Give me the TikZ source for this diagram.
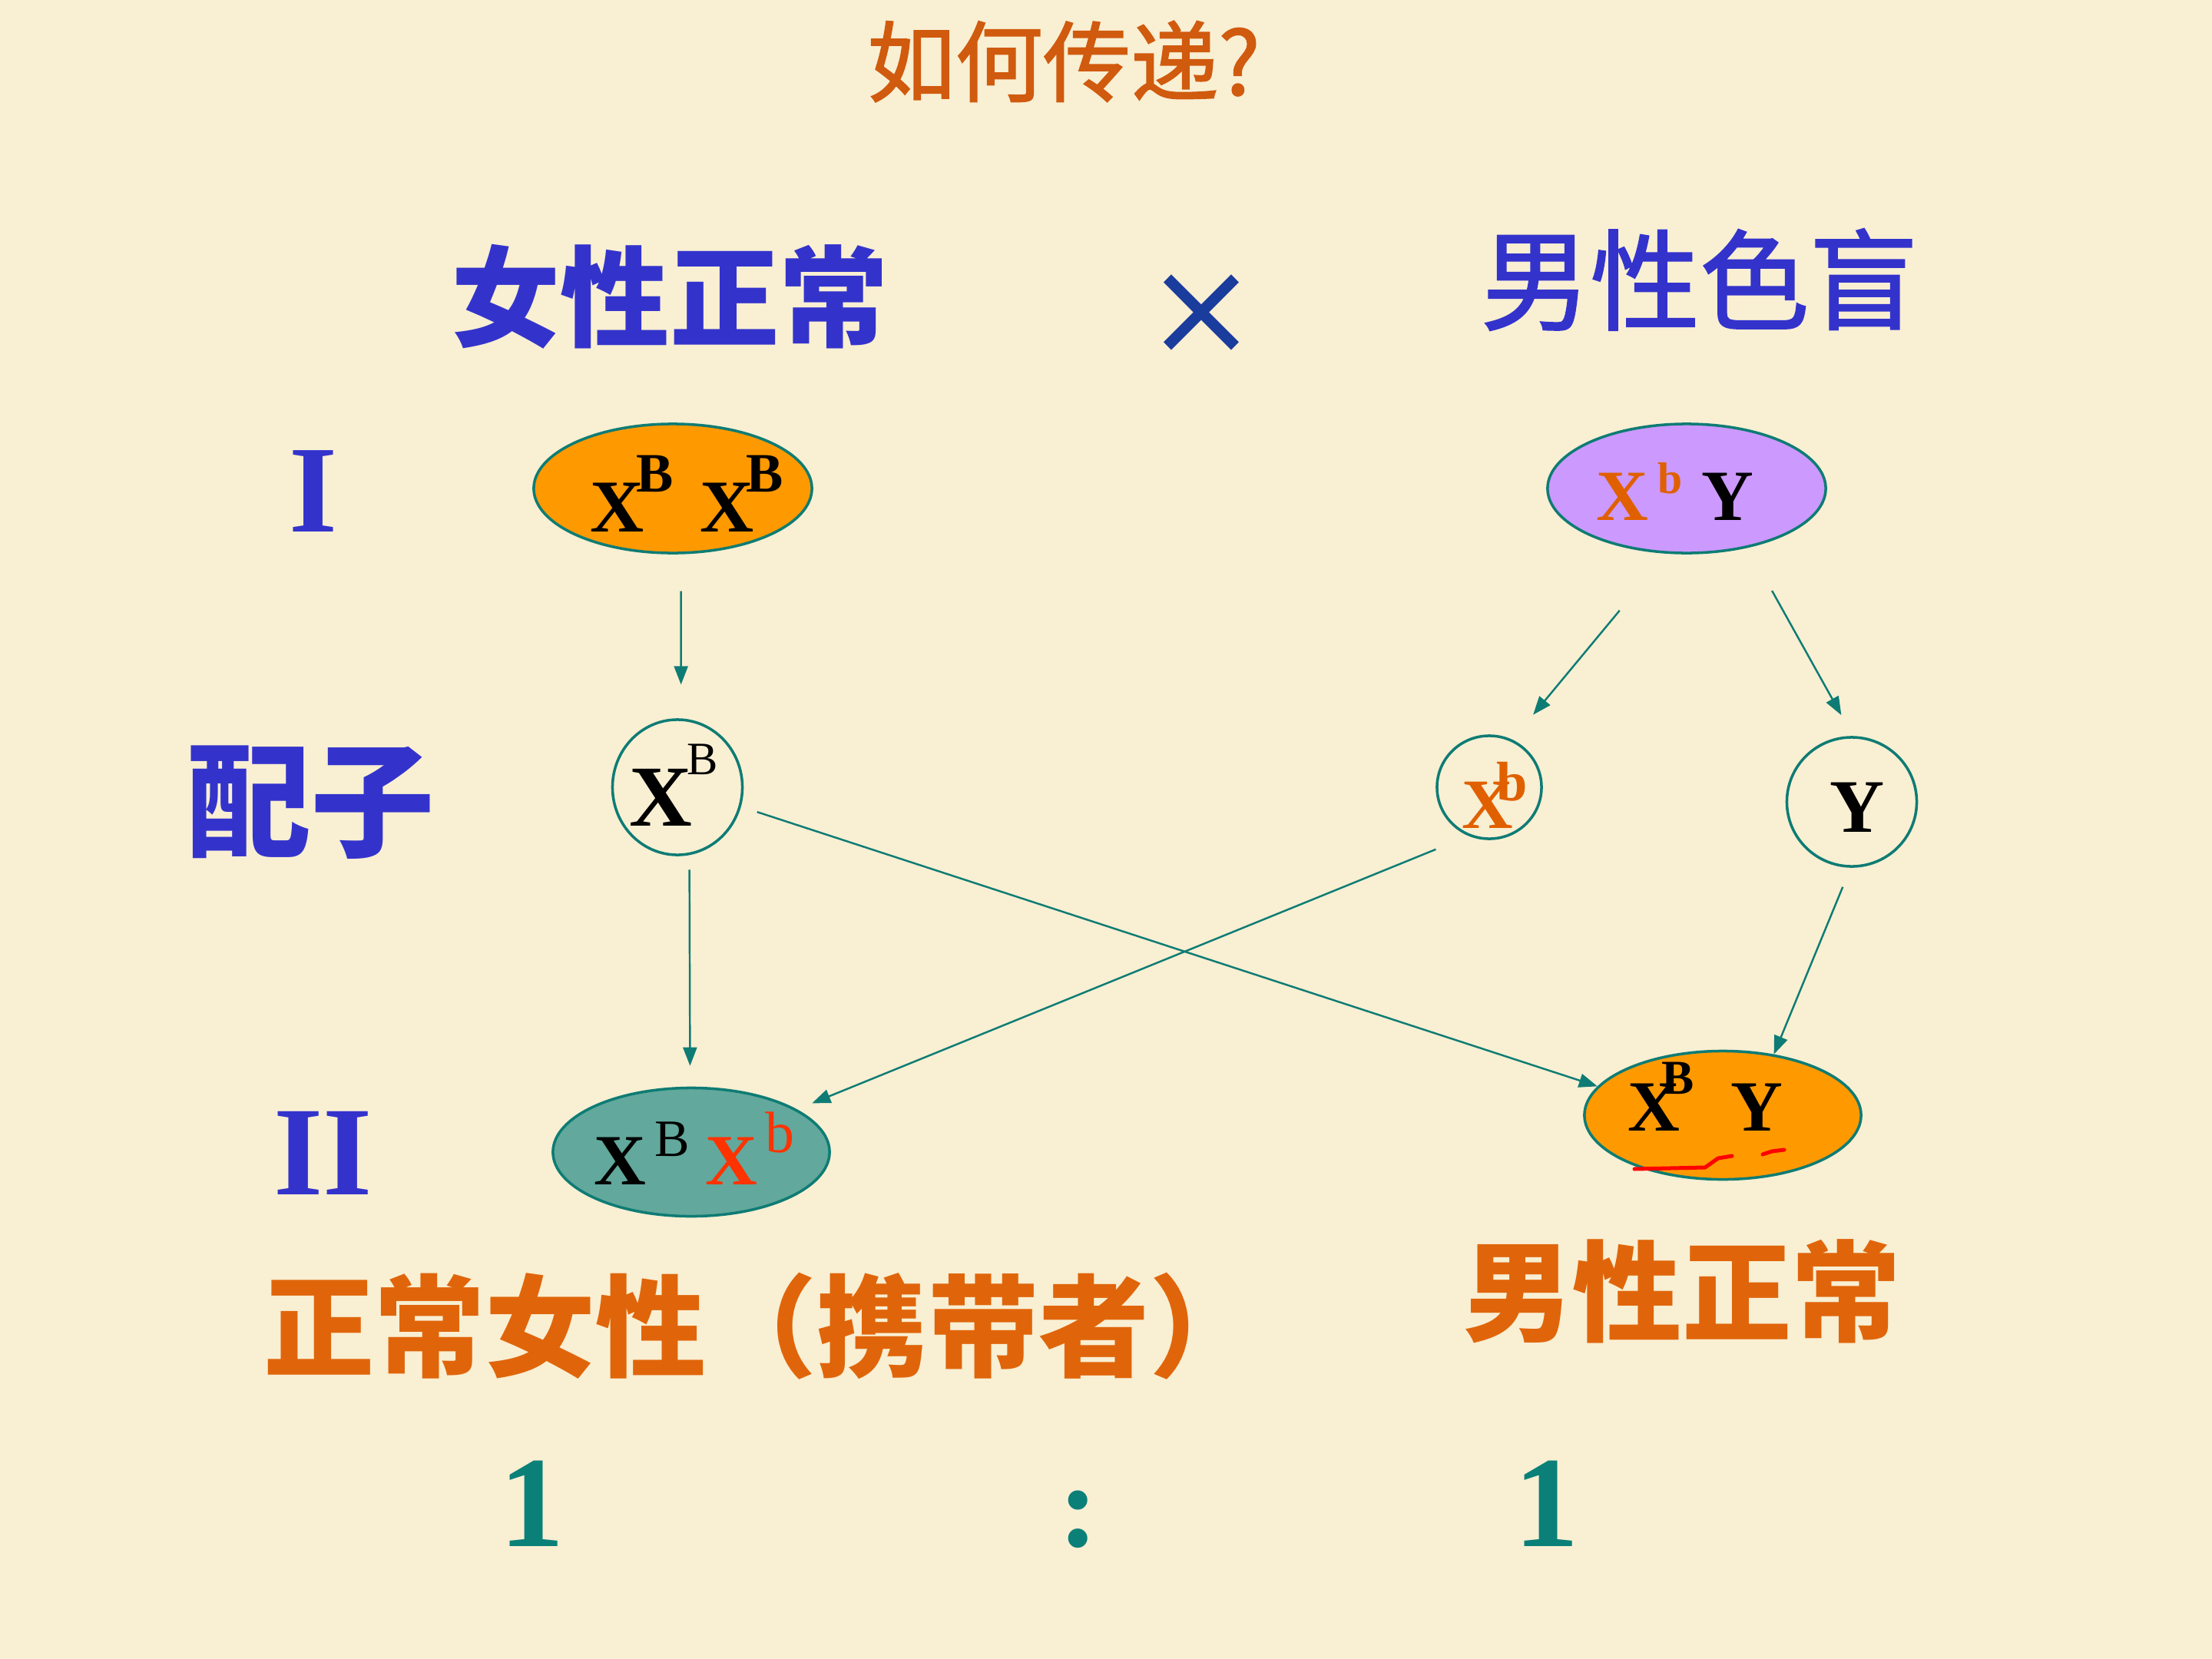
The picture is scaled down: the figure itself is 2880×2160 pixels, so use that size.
\documentclass[tikz,border=0pt]{standalone}
\usepackage{fontspec}
\setmainfont{Liberation Serif}
\newfontfamily\cjk{Noto Sans CJK SC}
\newfontfamily\cjkm[FakeBold=1.5]{Noto Sans CJK SC}
\newfontfamily\dejavu{DejaVu Sans}
\usetikzlibrary{shapes.geometric,arrows.meta}
\definecolor{bg}{HTML}{F9EFD3}
\definecolor{lblue}{HTML}{3333CC}
\definecolor{xblue}{HTML}{1A3C9C}
\definecolor{titleor}{HTML}{D05A0E}
\definecolor{labor}{HTML}{E0650A}
\definecolor{xorange}{HTML}{E06000}
\definecolor{xred}{HTML}{FF3300}
\definecolor{tealc}{HTML}{0E7C74}
\definecolor{numteal}{HTML}{0A8078}
\definecolor{orfill}{HTML}{FF9900}
\definecolor{purfill}{HTML}{CC99FF}
\definecolor{tealfill}{HTML}{62A89C}
\newcommand\fs[1]{\fontsize{#1pt}{#1pt}\selectfont}
\newcommand\tx[3]{\raisebox{#2}[0pt][0pt]{\makebox[0pt][c]{\hspace*{#1}#3}}}
\tikzset{
  geno/.style={ellipse, draw=tealc, line width=1pt, inner sep=0pt, minimum width=3.62cm, minimum height=1.68cm},
  gam/.style={ellipse, draw=tealc, line width=1pt, inner sep=0pt},
  arr/.style={draw=tealc, line width=0.7pt, -{Triangle[length=0.24cm,width=0.18cm]}},
  plain/.style={inner sep=0pt, outer sep=0pt},
  scrib/.style={draw=red, line width=0.05cm, line cap=round, line join=round}
}
\begin{document}
\begin{tikzpicture}[x=0.01cm, y=-0.01cm]
\fill[bg] (0,0) rectangle (2880,2160);
\useasboundingbox (0,0) rectangle (2880,2160);

% titles
\node[plain, text=titleor, font=\cjkm\fs{32.5}] (title) at (1385,80) {如何传递?};
\node[plain, text=lblue, font=\cjk\bfseries\fs{40.5}] (fem) at (872,386) {女性正常};
\node[plain, text=xblue, font=\dejavu\fs{49.5}] (cross) at (1564,410) {×};
\node[plain, text=lblue, font=\cjkm\fs{40.5}] (male) at (2213,364) {男性色盲};

% row labels
\node[plain, text=lblue, font=\bfseries\fs{46}] (g1) at (408,640) {I};
\node[plain, text=lblue, font=\cjk\bfseries\fs{46}] (gam) at (405,1045) {配子};
\node[plain, text=lblue, font=\bfseries\fs{47}] (g2) at (421,1501) {II};

% parents
\node[geno, fill=orfill] (P1) at (876,636) {\tx{0.36cm}{-0.56cm}{\bfseries\fs{27.6}X\kern-0.10cm\raisebox{0.52cm}{\fs{20.6}B}\kern0.35cm X\kern-0.10cm\raisebox{0.52cm}{\fs{20.6}B}}};
\node[geno, fill=purfill] (P2) at (2196,636) {\tx{-0.30cm}{-0.41cm}{\bfseries\fs{26.7}{\color{xorange}X\kern0.12cm\raisebox{0.35cm}{\fs{16.4}b}}\kern0.25cm Y}};

% gametes
\node[gam, minimum width=1.69cm, minimum height=1.76cm] (G1) at (882,1025) {\tx{-0.10cm}{-0.50cm}{\bfseries\fs{32.2}X\kern-0.07cm\raisebox{0.67cm}{\mdseries\fs{17.2}B}}};
\node[gam, minimum width=1.36cm, minimum height=1.34cm] (G2) at (1939,1025) {\tx{0.14cm}{-0.53cm}{\color{xorange}\bfseries\fs{26.2}X\kern-0.22cm\raisebox{0.36cm}{\fs{20.6}b}}};
\node[gam, minimum width=1.69cm, minimum height=1.68cm] (G3) at (2411,1044) {\tx{0.14cm}{-0.39cm}{\bfseries\fs{28}Y}};

% children
\node[geno, fill=tealfill, minimum width=3.60cm, minimum height=1.67cm] (C1) at (900,1500) {\tx{0.08cm}{-0.42cm}{\bfseries\fs{26.7}X\kern0.11cm\raisebox{0.37cm}{\mdseries\fs{19.4}B}\kern0.20cm{\color{xred}X\kern0.10cm\raisebox{0.42cm}{\mdseries\fs{21.6}b}}}};
\node[geno, fill=orfill, minimum width=3.60cm, minimum height=1.67cm] (C2) at (2243,1452) {\tx{-0.46cm}{-0.20cm}{\bfseries\fs{26.7}X\kern-0.23cm\raisebox{0.47cm}{\fs{18}B}\kern0.47cm Y}};

% scribbles
\draw[scrib] (2128,1522) -- (2220,1520) -- (2237,1508) -- (2255,1505);
\draw[scrib] (2295,1503) -- (2307,1499) -- (2323,1497);

% arrows
\draw[arr, shorten <=0.48cm, shorten >=0.44cm] (P1.277) -- (G1.87);
\draw[arr, shorten <=0.96cm, shorten >=0.42cm] (P2.253) -- (G2.64);
\draw[arr, shorten <=0.64cm, shorten >=0.31cm] (P2.316) -- (G3.89);
\draw[arr, shorten <=0.19cm, shorten >=0.27cm] (G1.280) -- (C1.91);
\draw[arr, shorten <=0.46cm, shorten >=0.21cm] (G2.247) -- (C1.22);
\draw[arr, shorten <=0.22cm] (G1.343) -- (C2.167);
\draw[arr, shorten <=0.27cm] (G3.269) -- (C2.50);

% bottom labels
\node[plain, anchor=west, text=labor, font=\cjk\bfseries\fs{41}] (carrier) at (343,1727) {正常女性（携带者）};
\node[plain, text=labor, font=\cjk\bfseries\fs{40.5}] (mnorm) at (2190,1681) {男性正常};
\node[plain, text=numteal, font=\bfseries\fs{48}] (n1) at (693,1958) {1};
\node[plain, text=numteal, font=\bfseries\fs{44}] (colon) at (1404,1978) {:};
\node[plain, text=numteal, font=\bfseries\fs{48}] (n2) at (2014,1958) {1};
\end{tikzpicture}
\end{document}
